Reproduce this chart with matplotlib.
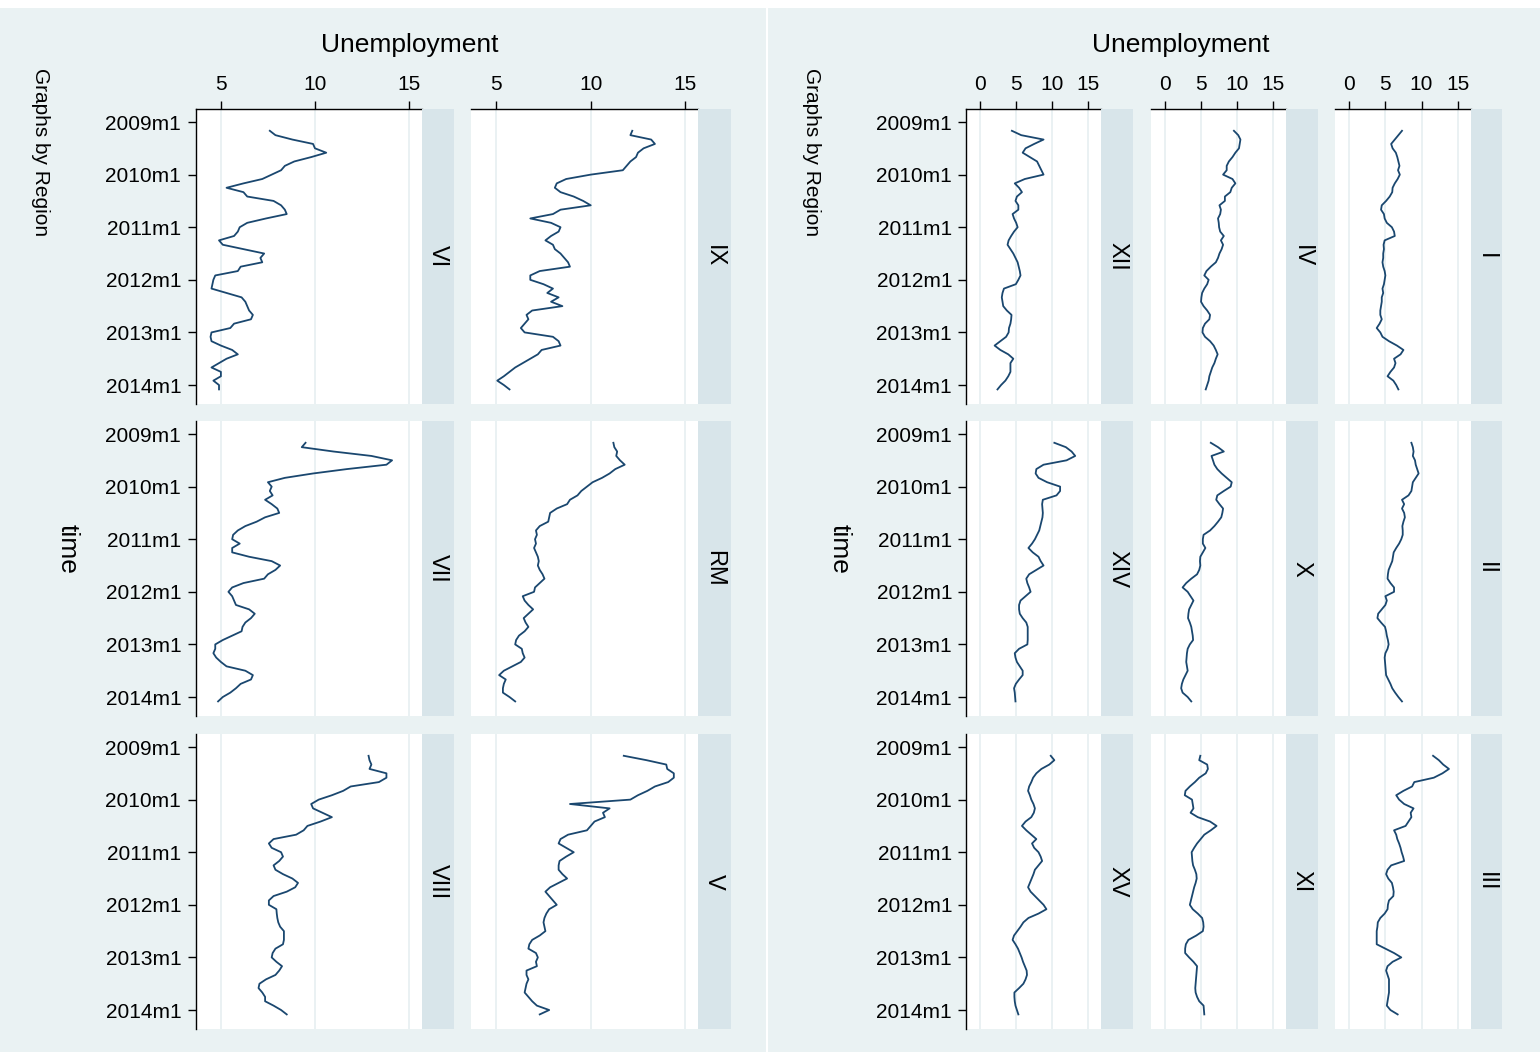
import numpy as np
import matplotlib
matplotlib.use("Agg")
import matplotlib.pyplot as plt
from matplotlib.patches import Rectangle

plt.rcParams['font.family'] = ['Liberation Sans', 'DejaVu Sans']

# ---- data: regional unemployment rate (%), monthly 2009m3 .. 2014m2 ----
# month index counted from 2009m1 = 0
months = np.arange(2, 62)
time_ticks = [0, 12, 24, 36, 48, 60]
time_labels = ["2009m1", "2010m1", "2011m1", "2012m1", "2013m1", "2014m1"]

VI = [7.6, 7.9, 8.8, 9.9, 10.0, 10.6, 9.8, 8.9, 8.4, 8.2, 7.7, 7.2, 6.2, 5.3, 6.2,
      6.4, 7.8, 8.2, 8.4, 8.5, 7.4, 6.4, 6.0, 5.9, 5.7, 4.9, 5.1, 6.2, 7.3, 7.1,
      7.2, 6.05, 5.9, 4.7, 4.6, 4.55, 4.5, 5.3, 6.1, 6.3, 6.4, 6.5, 6.7, 6.6, 5.7,
      5.5, 4.5, 4.45, 4.5, 5.0, 5.6, 5.9, 5.3, 4.9, 4.5, 5.0, 5.0, 4.6, 4.9, 4.9]
IX = [12.2, 12.1, 13.2, 13.4, 12.8, 12.5, 12.4, 12.1, 11.9, 11.7, 10.0, 8.7, 8.2, 8.1, 8.4,
      9.1, 9.6, 10.0, 8.4, 8.0, 6.8, 7.9, 8.4, 8.3, 7.9, 7.6, 8.0, 8.1, 8.4, 8.6,
      8.8, 8.9, 7.3, 6.8, 6.8, 7.5, 8.0, 7.7, 8.3, 7.9, 8.5, 6.9, 6.6, 6.7, 6.5,
      6.3, 6.5, 8.0, 8.3, 8.4, 7.4, 7.2, 6.8, 6.4, 6.0, 5.7, 5.4, 5.05, 5.4, 5.7]
VII = [9.5, 9.3, 11.0, 13.0, 14.1, 13.8, 11.7, 9.9, 8.4, 7.5, 7.7, 7.6, 7.75, 7.35, 7.7,
       8.0, 8.1, 7.35, 6.9, 6.3, 5.9, 5.65, 5.6, 6.0, 5.6, 5.6, 6.5, 7.7, 8.15, 7.9,
       7.5, 7.3, 6.2, 5.6, 5.4, 5.6, 5.7, 5.8, 6.5, 6.8, 6.6, 6.3, 6.15, 6.1, 5.6,
       5.1, 4.7, 4.7, 4.6, 4.75, 5.0, 5.3, 6.3, 6.7, 6.6, 6.05, 5.8, 5.5, 5.1, 4.85]
RM = [11.2, 11.25, 11.4, 11.35, 11.55, 11.8, 11.3, 11.0, 10.6, 10.1, 9.8, 9.5, 9.3, 8.9, 8.75,
      8.2, 7.85, 7.8, 7.75, 7.3, 7.1, 7.15, 7.05, 7.1, 7.0, 7.1, 7.2, 7.25, 7.2, 7.3,
      7.45, 7.55, 7.3, 7.05, 7.0, 6.4, 6.5, 6.7, 6.95, 6.7, 6.45, 6.55, 6.7, 6.5, 6.2,
      6.05, 6.0, 6.35, 6.4, 6.5, 6.3, 5.85, 5.4, 5.15, 5.5, 5.4, 5.35, 5.35, 5.7, 6.0]
VIII = [12.85, 12.9, 13.0, 12.9, 13.8, 13.8, 13.4, 11.9, 11.5, 10.9, 10.2, 9.8, 9.9, 10.4, 10.9,
        10.3, 9.6, 9.4, 9.0, 7.8, 7.55, 7.7, 8.2, 8.3, 8.1, 7.8, 7.9, 8.3, 8.8, 9.1,
        8.95, 8.5, 7.8, 7.55, 7.55, 7.95, 7.97, 8.0, 8.05, 8.15, 8.35, 8.35, 8.35, 8.3, 7.9,
        7.75, 7.7, 7.95, 8.25, 8.1, 7.9, 7.4, 7.05, 7.0, 7.2, 7.35, 7.35, 7.8, 8.2, 8.5]
V = [11.75, 12.95, 14.0, 14.05, 14.4, 14.4, 14.1, 13.4, 13.0, 12.5, 12.1, 8.9, 11.0, 10.65, 10.75,
     10.2, 10.0, 9.8, 8.8, 8.4, 8.3, 8.7, 9.1, 8.7, 8.35, 8.3, 8.3, 8.5, 8.75, 8.3,
     7.85, 7.6, 7.8, 8.0, 8.2, 7.8, 7.65, 7.55, 7.5, 7.55, 7.6, 7.3, 6.9, 6.75, 6.7,
     7.1, 7.2, 7.1, 7.15, 6.6, 6.6, 6.7, 6.6, 6.55, 6.5, 6.7, 6.9, 7.15, 7.8, 7.3]
XII = [4.4, 5.7, 8.8, 7.5, 6.3, 5.9, 6.9, 7.9, 8.2, 8.5, 8.8, 6.2, 4.8, 5.4, 5.8,
       5.1, 4.9, 5.3, 5.3, 4.5, 4.7, 5.0, 5.2, 4.7, 4.3, 3.95, 3.8, 4.2, 4.6, 4.9,
       5.2, 5.35, 5.5, 5.6, 5.3, 4.95, 3.3, 3.1, 3.0, 3.1, 3.2, 3.7, 4.35, 4.3, 4.2,
       4.0, 3.95, 3.6, 2.8, 2.0, 2.8, 3.9, 4.6, 4.2, 4.2, 4.2, 3.9, 3.5, 2.9, 2.4]
IV = [9.6, 10.2, 10.5, 10.4, 10.3, 9.8, 9.4, 8.9, 8.6, 8.6, 8.1, 9.4, 9.8, 9.3, 9.1,
      8.35, 8.35, 7.6, 7.8, 7.7, 7.4, 7.5, 7.55, 7.7, 8.2, 7.8, 8.1, 7.9, 7.6, 7.4,
      7.1, 6.4, 5.8, 5.5, 6.1, 5.9, 5.5, 5.2, 5.1, 5.05, 5.4, 5.9, 6.3, 6.2, 5.6,
      5.3, 5.25, 5.6, 6.3, 6.8, 7.1, 7.35, 7.1, 6.9, 6.6, 6.4, 6.2, 6.1, 5.9, 5.7]
I = [7.3, 6.8, 6.3, 5.8, 6.0, 6.45, 6.65, 6.8, 6.95, 6.75, 7.0, 6.7, 6.3, 6.0, 5.95,
     5.6, 5.1, 4.5, 4.4, 4.8, 4.9, 5.2, 5.9, 6.2, 6.3, 4.9, 4.75, 4.8, 4.7, 4.7,
     4.6, 4.7, 4.9, 5.0, 4.9, 4.8, 4.6, 4.7, 4.5, 4.5, 4.4, 4.3, 4.3, 4.5, 4.2,
     3.8, 4.3, 4.6, 5.5, 6.6, 7.5, 7.1, 6.2, 6.4, 6.2, 5.7, 5.3, 6.1, 6.5, 6.8]
XIV = [10.3, 11.9, 12.7, 13.2, 12.0, 8.8, 7.8, 7.7, 8.1, 9.3, 11.1, 11.1, 10.6, 8.7, 8.6,
       8.65, 8.7, 8.65, 8.5, 8.35, 8.2, 7.9, 7.6, 7.2, 6.7, 7.3, 8.1, 8.4, 8.8, 7.8,
       6.8, 6.4, 6.55, 6.8, 7.0, 6.3, 5.6, 5.4, 5.4, 5.5, 5.9, 6.4, 6.6, 6.6, 6.6,
       6.6, 6.55, 5.4, 4.8, 4.9, 5.1, 5.5, 5.9, 5.9, 5.4, 4.95, 4.7, 4.8, 4.85, 4.9]
X = [6.4, 7.4, 8.2, 6.5, 6.7, 6.9, 7.3, 7.9, 8.6, 9.3, 9.15, 8.2, 7.3, 7.15, 7.6,
     8.1, 8.0, 7.85, 7.4, 6.9, 6.3, 5.4, 5.3, 5.3, 5.65, 5.3, 4.95, 4.9, 4.95, 4.8,
     4.5, 3.7, 3.0, 2.5, 3.2, 3.6, 4.0, 3.7, 3.4, 3.3, 3.25, 3.5, 3.7, 3.8, 3.9,
     3.95, 3.5, 3.2, 3.1, 3.05, 3.0, 3.1, 3.2, 2.9, 2.6, 2.4, 2.3, 2.5, 3.2, 3.7]
II = [8.6, 8.8, 8.9, 8.8, 9.1, 9.2, 9.4, 9.6, 9.2, 8.8, 8.7, 8.6, 8.2, 7.3, 7.6,
      7.3, 7.6, 7.7, 7.5, 7.35, 7.4, 7.4, 7.2, 6.9, 6.5, 6.15, 6.05, 5.95, 5.7, 5.45,
      5.35, 5.3, 5.7, 6.2, 6.2, 5.0, 5.2, 5.0, 4.5, 4.0, 3.9, 4.4, 4.95, 5.1, 5.2,
      5.35, 5.45, 5.3, 5.0, 4.9, 4.95, 5.0, 5.05, 5.1, 5.4, 5.7, 5.95, 6.35, 6.8, 7.3]
XV = [9.8, 10.3, 9.6, 8.5, 7.8, 7.35, 7.1, 6.8, 6.65, 6.9, 7.1, 7.4, 7.6, 7.45, 7.1,
      6.3, 5.8, 6.4, 7.1, 7.8, 7.2, 7.5, 8.1, 8.4, 8.6, 8.1, 7.6, 7.4, 7.15, 6.9,
      6.65, 7.0, 7.6, 8.2, 8.8, 9.2, 8.1, 6.7, 6.0, 5.6, 5.15, 4.7, 4.5, 4.9, 5.25,
      5.5, 5.75, 5.95, 6.2, 6.45, 6.5, 6.3, 6.0, 5.4, 4.75, 4.75, 4.8, 4.9, 5.1, 5.3]
XI = [4.95, 4.8, 5.9, 6.0, 5.7, 4.8, 4.2, 3.5, 2.9, 2.8, 3.8, 3.9, 4.0, 3.6, 4.6,
      6.3, 7.2, 6.4, 5.5, 5.0, 4.5, 4.1, 3.75, 3.8, 3.85, 3.95, 4.2, 4.4, 4.45, 4.3,
      4.1, 3.95, 3.8, 3.65, 3.5, 3.9, 4.6, 5.2, 5.35, 5.4, 5.3, 4.4, 3.3, 2.95, 2.85,
      2.85, 3.4, 4.0, 4.5, 4.45, 4.4, 4.35, 4.3, 4.25, 4.3, 4.5, 4.8, 5.4, 5.45, 5.5]
III = [11.6, 12.4, 13.0, 13.8, 12.9, 11.7, 9.0, 8.7, 7.5, 6.5, 6.9, 7.6, 8.9, 8.5, 8.6,
       8.2, 7.8, 6.2, 6.5, 6.65, 6.9, 7.1, 7.25, 7.45, 7.6, 5.8, 5.3, 5.1, 5.4, 5.9,
       6.05, 6.15, 6.1, 5.5, 5.35, 5.3, 4.9, 4.3, 3.95, 3.9, 3.8, 3.8, 3.8, 3.8, 5.0,
       6.2, 7.2, 6.0, 5.3, 5.1, 5.3, 5.5, 5.5, 5.5, 5.5, 5.4, 5.3, 5.2, 5.7, 6.7]

series = {"VI": VI, "IX": IX, "VII": VII, "RM": RM, "VIII": VIII, "V": V,
          "XII": XII, "IV": IV, "I": I, "XIV": XIV, "X": X, "II": II,
          "XV": XV, "XI": XI, "III": III}

left_layout = [["VI", "IX"], ["VII", "RM"], ["VIII", "V"]]
right_layout = [["XII", "IV", "I"], ["XIV", "X", "II"], ["XV", "XI", "III"]]
left_xticks = [5, 10, 15]
right_xticks = [0, 5, 10, 15]

# ---- styling ----
W, H = 1540, 1052
BG = "#EAF2F3"
STRIP = "#D8E5EA"
GRID = "#E6EFF1"
LINE = "#1A476F"
PT = 72.0 / 100.0  # points per pixel at dpi 100

fig = plt.figure(figsize=(W / 100, H / 100), dpi=100, facecolor="white")


def frac_box(x0, y0, x1, y1):
    return [x0 / W, 1 - y1 / H, (x1 - x0) / W, (y1 - y0) / H]


# two graph regions with a white seam between them
fig.patches.append(Rectangle((0, 0), 766 / W, (H - 8) / H, transform=fig.transFigure,
                             facecolor=BG, edgecolor="none", zorder=-10))
fig.patches.append(Rectangle((768 / W, 0), (W - 768) / W, (H - 8) / H, transform=fig.transFigure,
                             facecolor=BG, edgecolor="none", zorder=-10))

rows = [(109, 404), (421, 716), (734, 1029)]
left_cols = [(195.5, 421.8, 454.2), (470.8, 698.0, 730.5)]
right_cols = [(966.3, 1101.0, 1133.0), (1150.6, 1285.8, 1317.8), (1335.3, 1470.5, 1501.8)]
YLIM = (64.33, -2.97)


def draw_panel(name, x0, x1, s1, y0, y1, xlim, xticks, first_row, first_col):
    ax = fig.add_axes(frac_box(x0, y0, x1, y1))
    ax.set_facecolor("white")
    # unemployment runs along x, time runs down the y axis
    ax.plot(series[name], months, color=LINE, lw=1.3, solid_joinstyle="round", zorder=3)
    ax.set_xlim(*xlim)
    ax.set_ylim(*YLIM)
    ax.set_xticks(xticks)
    ax.grid(axis="x", color=GRID, lw=1.2, zorder=0)
    ax.set_axisbelow(True)
    for sp in ax.spines.values():
        sp.set_visible(False)
    ax.xaxis.tick_top()
    if first_row:
        ax.spines["top"].set_visible(True)
        ax.spines["top"].set_linewidth(1.0)
        ax.tick_params(axis="x", top=True, bottom=False, length=8 * PT, width=1.0,
                       pad=5.0, labelsize=15, labeltop=True, labelbottom=False)
    else:
        ax.tick_params(axis="x", top=False, bottom=False, labeltop=False, labelbottom=False)
    ax.set_yticks(time_ticks)
    if first_col:
        ax.spines["left"].set_visible(True)
        ax.spines["left"].set_linewidth(1.0)
        ax.set_yticklabels(time_labels)
        ax.tick_params(axis="y", left=True, length=8 * PT, width=1.0, pad=4.5, labelsize=15)
    else:
        ax.tick_params(axis="y", left=False, labelleft=False)
    # region strip on the right of the panel
    fig.patches.append(Rectangle((x1 / W, 1 - y1 / H), (s1 - x1) / W, (y1 - y0) / H,
                                 transform=fig.transFigure, facecolor=STRIP,
                                 edgecolor="none", zorder=1))
    fig.text((x1 + s1) / 2 / W, 1 - (y0 + y1) / 2 / H, name, rotation=-90,
             ha="center", va="center", fontsize=17)
    return ax


for r, (y0, y1) in enumerate(rows):
    for c, (x0, x1, s1) in enumerate(left_cols):
        draw_panel(left_layout[r][c], x0, x1, s1, y0, y1, (3.65, 15.68), left_xticks,
                   r == 0, c == 0)
    for c, (x0, x1, s1) in enumerate(right_cols):
        draw_panel(right_layout[r][c], x0, x1, s1, y0, y1, (-1.93, 16.78), right_xticks,
                   r == 0, c == 0)

# axis titles and notes
for cx in (410, 1181):
    fig.text(cx / W, 1 - 45 / H, "Unemployment", ha="center", va="center", fontsize=19)
for gx, tx in ((40, 68), (811, 840)):
    fig.text(gx / W, 1 - 68 / H, "Graphs by Region", rotation=-90, ha="center", va="top",
             fontsize=15)
    fig.text(tx / W, 1 - 549 / H, "time", rotation=-90, ha="center", va="center", fontsize=19)

fig.savefig("out.png", dpi=100, facecolor=fig.get_facecolor())
